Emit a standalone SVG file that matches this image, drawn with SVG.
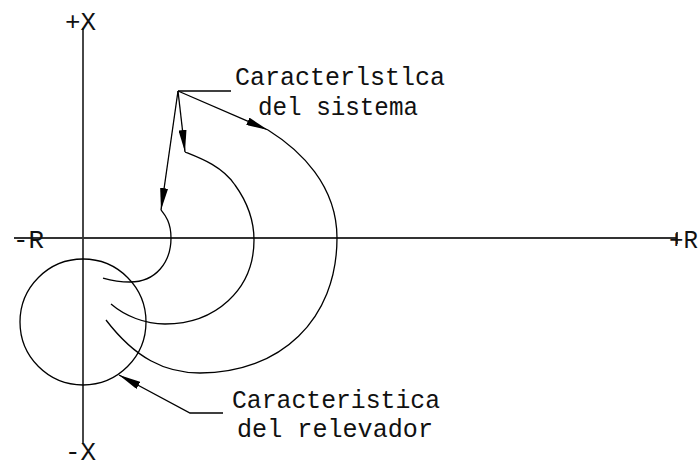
<svg xmlns="http://www.w3.org/2000/svg" width="698" height="467" viewBox="0 0 698 467">
  <style>
    .axis { stroke: #333; stroke-width: 1.8; fill: none; }
    .curve { stroke: #000; stroke-width: 1.3; fill: none; }
    .lbl { font-family: "Liberation Mono", "DejaVu Sans Mono", monospace; font-size: 25px; fill: #111; }
  </style>
  <defs>
    <marker id="arr" markerUnits="userSpaceOnUse" markerWidth="22" markerHeight="8" viewBox="0 0 22 8" refX="22" refY="4" orient="auto">
      <path d="M0,0 L22,4 L0,8 Z" fill="#000"/>
    </marker>
  </defs>
  <rect width="698" height="467" fill="#fff"/>

  <g id="axes">
    <line class="axis" x1="14" y1="238" x2="677" y2="238"/>
    <line class="axis" x1="83" y1="28" x2="83" y2="444"/>
    <line class="axis" x1="677" y1="232" x2="677" y2="244"/>
    <text class="lbl" x="65" y="30" textLength="31" lengthAdjust="spacingAndGlyphs">+X</text>
    <text class="lbl" x="65" y="460" textLength="31" lengthAdjust="spacingAndGlyphs">-X</text>
    <text class="lbl" x="13" y="248" textLength="31" lengthAdjust="spacingAndGlyphs">-R</text>
    <text class="lbl" x="669" y="248" textLength="29" lengthAdjust="spacingAndGlyphs">+R</text>
  </g>

  <g id="relevador">
    <circle class="curve" cx="83" cy="322" r="63"/>
  </g>

  <g id="sistema">
    <path class="curve" d="M161,210 C165,215 171,222 171,238 C171,262 156,282 130,282 C118,282 110,280 103,278"/>
    <path class="curve" d="M185,152 C200,158 222,166 235,185 C248,203 254,220 254,240 C254,290 215,324 165,324 C145,324 125,316 111,304"/>
    <path class="curve" d="M268,130 C300,150 337,185 337,238 C337,320 280,373 200,373 C165,373 135,358 106,320"/>
  </g>

  <g id="label-sistema">
    <text class="lbl" x="340" y="85" text-anchor="middle" textLength="210" lengthAdjust="spacingAndGlyphs">Caracterlstlca</text>
    <text class="lbl" x="338" y="115" text-anchor="middle" textLength="160" lengthAdjust="spacingAndGlyphs">del sistema</text>
  </g>

  <g id="label-relevador">
    <text class="lbl" x="336" y="408" text-anchor="middle" textLength="208" lengthAdjust="spacingAndGlyphs">Caracteristica</text>
    <text class="lbl" x="335" y="437" text-anchor="middle" textLength="196" lengthAdjust="spacingAndGlyphs">del relevador</text>
  </g>

  <g id="connectors">
    <polyline class="curve" points="231,91 178,91"/>
    <line class="curve" x1="178" y1="91" x2="161" y2="210" marker-end="url(#arr)"/>
    <line class="curve" x1="178" y1="91" x2="185" y2="152" marker-end="url(#arr)"/>
    <line class="curve" x1="178" y1="91" x2="268" y2="130" marker-end="url(#arr)"/>
    <polyline class="curve" points="223,413 190,413 119,375" marker-end="url(#arr)"/>
  </g>
</svg>
